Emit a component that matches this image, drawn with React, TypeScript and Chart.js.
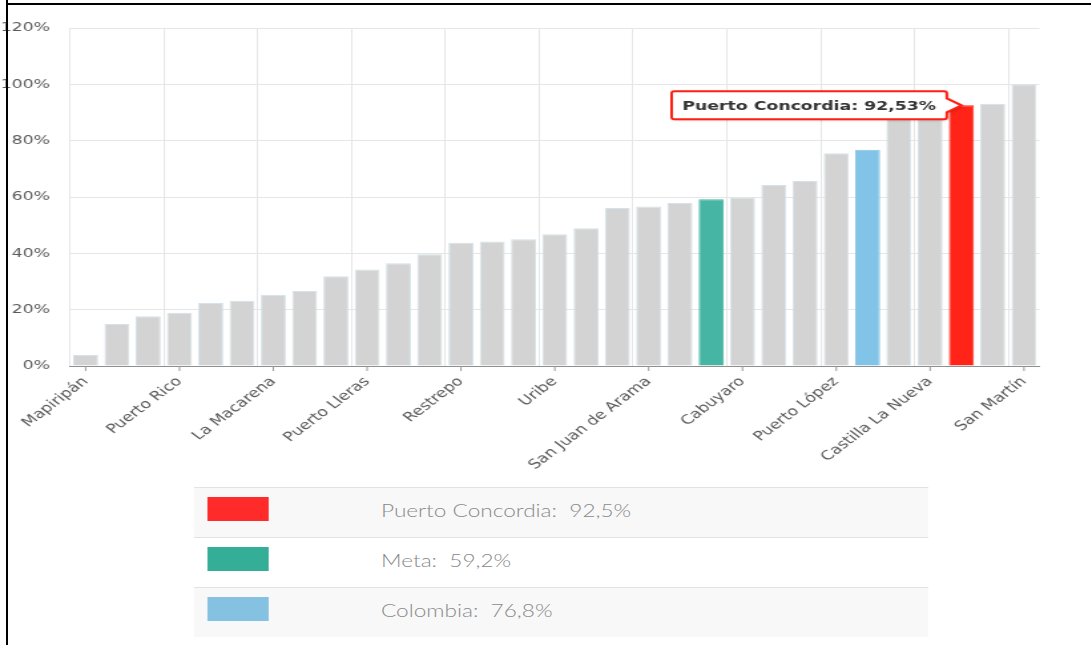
import React, { useEffect, useRef } from 'react';
import { Chart, registerables } from 'chart.js';

Chart.register(...registerables);

// ---------- data ----------
const municipios: string[] = [
  'Mapiripán', 'Mesetas', 'Vista Hermosa', 'Puerto Rico', 'Puerto Gaitán', 'El Calvario',
  'La Macarena', 'Lejanías', 'San Juanito', 'Puerto Lleras', 'El Dorado', 'Fuente de Oro',
  'Restrepo', 'El Castillo', 'Granada', 'Uribe', 'San Carlos de Guaroa', 'Barranca de Upía',
  'San Juan de Arama', 'Cubarral', 'Meta', 'Cabuyaro', 'Guamal', 'Cumaral',
  'Puerto López', 'Colombia', 'Acacías', 'Castilla La Nueva', 'Puerto Concordia', 'Villavicencio',
  'San Martín',
];

const valores: number[] = [
  3.9, 14.9, 17.7, 18.9, 22.4, 23.2,
  25.3, 26.6, 31.9, 34.3, 36.5, 39.7,
  43.8, 44.2, 45.0, 46.8, 48.9, 56.1,
  56.6, 57.9, 59.2, 59.8, 64.3, 65.7,
  75.5, 76.8, 89.0, 90.1, 92.53, 93.1,
  100.0,
];

const yTickValues: number[] = [0, 20, 40, 60, 80, 100, 120];

const destacados: string[] = ['Puerto Concordia', 'Meta', 'Colombia'];
const coloresDestacados: string[] = ['#ff2417', '#46b5a3', '#82c4e8'];

const leyendaNombres: string[] = ['Puerto Concordia', 'Meta', 'Colombia'];
const leyendaValores: string[] = ['92,5%', '59,2%', '76,8%'];
const leyendaColores: string[] = ['#ff2a2a', '#34ae96', '#85c1e0'];

const tooltipTarget = 'Puerto Concordia';

// ---------- layout helpers ----------
const K = 1.33; // horizontal stretch of the reference picture
const W = 1091 / K;
const CANVAS_H = 480;
const AREA_LEFT = 70 / K;
const AREA_RIGHT = 1040 / K;
const AREA_TOP = 28;
const AREA_BOTTOM = 366;

const AXIS_FONT = { family: '"DejaVu Sans", Verdana, sans-serif', size: 13 };

const barColors = municipios.map((m) => {
  const i = destacados.indexOf(m);
  return i >= 0 ? coloresDestacados[i] : '#d3d3d3';
});
const barBorders = municipios.map((m) => {
  const i = destacados.indexOf(m);
  return i >= 0 ? coloresDestacados[i] : '#d2e3ea';
});

const tickMarksPlugin = {
  id: 'tickMarks',
  afterDraw(chart: any) {
    const xs = chart.scales.x;
    const ctx = chart.ctx;
    ctx.save();
    ctx.strokeStyle = '#999';
    ctx.lineWidth = 1;
    for (let i = 0; i < municipios.length; i += 3) {
      const px = xs.getPixelForTick(i);
      ctx.beginPath();
      ctx.moveTo(px, xs.top);
      ctx.lineTo(px, xs.top + 5);
      ctx.stroke();
    }
    ctx.restore();
  },
};

const calloutPlugin = {
  id: 'callout',
  afterDraw(chart: any) {
    const idx = municipios.indexOf(tooltipTarget);
    const el = chart.getDatasetMeta(0).data[idx];
    if (!el) return;
    const ctx = chart.ctx;
    const text = `${municipios[idx]}: ${valores[idx].toFixed(2).replace('.', ',')}%`;
    ctx.save();
    ctx.font = 'bold 13px "DejaVu Sans", Verdana, sans-serif';
    const tw = ctx.measureText(text).width;
    const pad = 8;
    const h = 28;
    const caret = 11;
    const half = 7;
    const tipX = el.x;
    const tipY = el.y;
    const right = tipX - caret;
    const left = right - tw - 2 * pad;
    const top = tipY - h / 2;
    const bottom = top + h;
    const r = 2;
    ctx.beginPath();
    ctx.moveTo(left + r, top);
    ctx.lineTo(right - r, top);
    ctx.quadraticCurveTo(right, top, right, top + r);
    ctx.lineTo(right, tipY - half);
    ctx.lineTo(tipX, tipY);
    ctx.lineTo(right, tipY + half);
    ctx.lineTo(right, bottom - r);
    ctx.quadraticCurveTo(right, bottom, right - r, bottom);
    ctx.lineTo(left + r, bottom);
    ctx.quadraticCurveTo(left, bottom, left, bottom - r);
    ctx.lineTo(left, top + r);
    ctx.quadraticCurveTo(left, top, left + r, top);
    ctx.closePath();
    ctx.shadowColor = 'rgba(0,0,0,0.25)';
    ctx.shadowBlur = 3;
    ctx.shadowOffsetX = 1;
    ctx.shadowOffsetY = 1;
    ctx.fillStyle = '#ffffff';
    ctx.fill();
    ctx.shadowColor = 'rgba(0,0,0,0)';
    ctx.lineWidth = 2;
    ctx.strokeStyle = '#ff1f12';
    ctx.stroke();
    ctx.fillStyle = '#333333';
    ctx.textAlign = 'left';
    ctx.textBaseline = 'middle';
    ctx.fillText(text, left + pad, tipY + 1);
    ctx.restore();
  },
};

function BarChart() {
  const ref = useRef<HTMLCanvasElement | null>(null);
  useEffect(() => {
    if (!ref.current) return;
    const chart = new Chart(ref.current, {
      type: 'bar',
      data: {
        labels: municipios,
        datasets: [
          {
            data: valores,
            backgroundColor: barColors,
            borderColor: barBorders,
            borderWidth: 1,
            barPercentage: 0.8,
            categoryPercentage: 1,
          },
        ],
      },
      options: {
        animation: false,
        responsive: false,
        devicePixelRatio: 1,
        layout: { padding: { left: 0, right: W - AREA_RIGHT, top: AREA_TOP, bottom: 0 } },
        plugins: {
          legend: { display: false },
          tooltip: { enabled: false },
          title: { display: false },
        },
        scales: {
          x: {
            type: 'category',
            offset: true,
            grid: {
              offset: true,
              drawTicks: false,
              lineWidth: 1,
              color: (c: any) => (c.index !== undefined && c.index % 3 === 0 ? '#e6e6e6' : 'rgba(0,0,0,0)'),
            },
            border: { display: true, color: '#8f8f8f', width: 1 },
            ticks: {
              autoSkip: false,
              minRotation: 45,
              maxRotation: 45,
              padding: 8,
              color: '#5a5a5a',
              font: AXIS_FONT,
              callback: (_v: any, i: number) => (i % 3 === 0 ? municipios[i] : ''),
            },
            afterFit: (s: any) => {
              s.height = CANVAS_H - AREA_BOTTOM;
            },
          },
          y: {
            min: yTickValues[0],
            max: yTickValues[yTickValues.length - 1],
            afterBuildTicks: (s: any) => {
              s.ticks = yTickValues.map((v) => ({ value: v }));
            },
            ticks: {
              padding: AREA_LEFT - 50 / K,
              color: '#5a5a5a',
              font: AXIS_FONT,
              callback: (v: any) => `${v}%`,
            },
            grid: { color: '#e6e6e6', drawTicks: false },
            border: { display: false },
            afterFit: (s: any) => {
              s.width = AREA_LEFT;
            },
          },
        },
      } as any,
      plugins: [tickMarksPlugin, calloutPlugin],
    });
    return () => chart.destroy();
  }, []);
  return <canvas ref={ref} width={Math.round(W)} height={CANVAS_H} style={{ display: 'block' }} />;
}

function Legend() {
  const left = 194 / K;
  const width = (928 - 194) / K;
  return (
    <div style={{ position: 'absolute', left, top: 487, width }}>
      {leyendaNombres.map((n, i) => (
        <div
          key={n}
          style={{
            position: 'relative',
            height: 49,
            borderTop: '1px solid #e2e2e2',
            background: i % 2 === 0 ? '#f8f8f8' : '#ffffff',
          }}
        >
          <div
            style={{
              position: 'absolute',
              left: 13 / K,
              top: 9,
              width: 62 / K,
              height: 24,
              background: leyendaColores[i],
            }}
          />
          <div
            style={{
              position: 'absolute',
              left: (381 - 194) / K,
              top: 0,
              height: 49,
              lineHeight: '45px',
              fontFamily: 'Lato, "Open Sans", sans-serif',
              fontWeight: 300,
              fontSize: 17,
              color: '#8a8a8a',
              whiteSpace: 'pre',
            }}
          >
            {`${n}:  ${leyendaValores[i]}`}
          </div>
        </div>
      ))}
    </div>
  );
}

export default function App() {
  return (
    <div style={{ position: 'fixed', left: 0, top: 0, width: 1091, height: 645, overflow: 'hidden', background: '#fff' }}>
      <div
        style={{
          position: 'absolute',
          left: 0,
          top: 0,
          width: W,
          height: 645,
          transform: `scaleX(${K})`,
          transformOrigin: '0 0',
        }}
      >
        <BarChart />
        <Legend />
      </div>
      <div style={{ position: 'absolute', left: 6, top: 0, width: 2, height: 645, background: '#000' }} />
      <div style={{ position: 'absolute', left: 6, top: 3, width: 1085, height: 2, background: '#000' }} />
    </div>
  );
}
